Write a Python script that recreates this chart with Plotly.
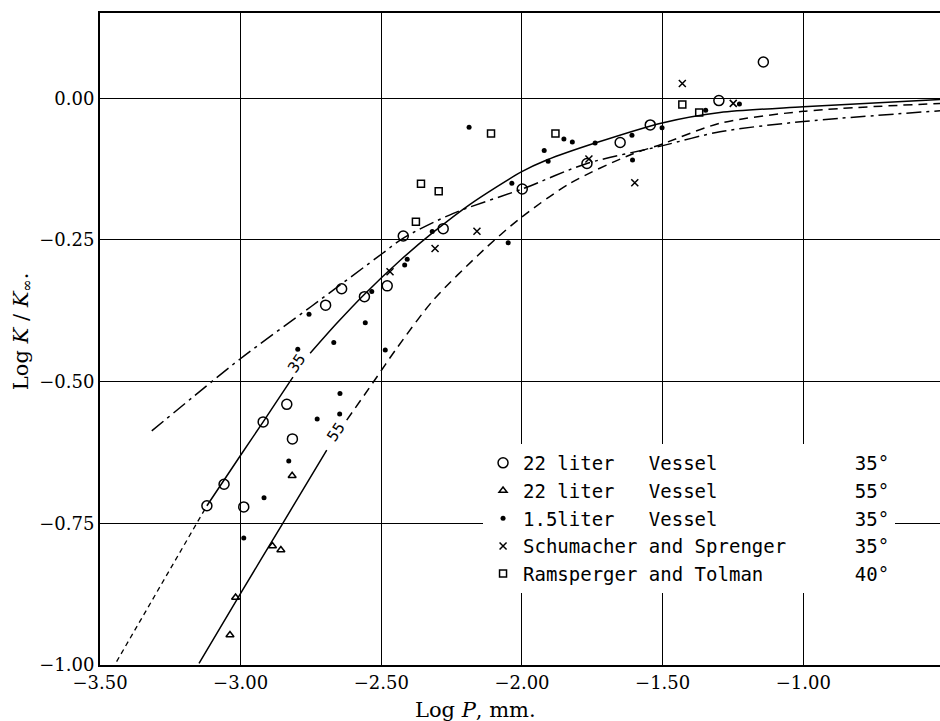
import plotly.graph_objects as go

# ---------------- data ----------------
# 22 liter vessel, 35 deg (open circles)
c22_35_x = [-3.120, -3.059, -2.989, -2.920, -2.836, -2.816, -2.698, -2.641, -2.560,
            -2.479, -2.422, -2.280, -1.999, -1.769, -1.651, -1.544, -1.300, -1.142]
c22_35_y = [-0.719, -0.681, -0.721, -0.571, -0.540, -0.601, -0.365, -0.336, -0.350,
            -0.331, -0.243, -0.230, -0.160, -0.115, -0.078, -0.047, -0.004, 0.064]

# 22 liter vessel, 55 deg (triangles)
t22_55_x = [-2.817, -2.887, -2.857, -3.018, -3.038]
t22_55_y = [-0.666, -0.790, -0.797, -0.881, -0.947]

# 1.5 liter vessel, 35 deg (dots)
d15_35_x = [-2.647, -2.648, -2.728, -2.829, -2.917, -2.989, -2.757, -2.669, -2.797,
            -2.557, -2.534, -2.486, -2.417, -2.408, -2.319, -2.188, -2.049, -2.036,
            -1.921, -1.907, -1.851, -1.821, -1.740, -1.609, -1.607, -1.502, -1.347, -1.227]
d15_35_y = [-0.521, -0.557, -0.566, -0.640, -0.705, -0.776, -0.381, -0.431, -0.443,
            -0.396, -0.341, -0.444, -0.294, -0.284, -0.235, -0.051, -0.255, -0.150,
            -0.092, -0.111, -0.072, -0.077, -0.079, -0.065, -0.109, -0.052, -0.021, -0.010]

# Schumacher and Sprenger, 35 deg (crosses)
sch_x = [-2.469, -2.309, -2.160, -1.762, -1.599, -1.430, -1.249]
sch_y = [-0.306, -0.265, -0.2345, -0.107, -0.149, 0.026, -0.009]

# Ramsperger and Tolman, 40 deg (squares)
ram_x = [-2.359, -2.296, -2.377, -2.110, -1.881, -1.430, -1.370]
ram_y = [-0.151, -0.164, -0.218, -0.062, -0.062, -0.011, -0.025]

# theoretical curves
curve35_ext_x = [-3.441, -3.120]
curve35_ext_y = [-0.994, -0.719]
curve35_low_x = [-3.120, -2.999, -2.920, -2.825, -2.814]
curve35_low_y = [-0.719, -0.629, -0.571, -0.500, -0.492]
curve35_up_x = [-2.753, -2.660, -2.5615, -2.4335, -2.315, -2.1846, -2.0006, -1.912,
                -1.740, -1.498, -1.296, -1.000, -0.514]
curve35_up_y = [-0.450, -0.398, -0.3466, -0.2862, -0.2363, -0.187, -0.1295, -0.109,
                -0.079, -0.043, -0.025, -0.015, -0.002]

curve_dd_x = [-3.316, -3.002, -2.748, -2.494, -2.423, -2.244, -1.999, -1.769,
              -1.503, -1.296, -1.000, -0.514]
curve_dd_y = [-0.587, -0.460, -0.367, -0.273, -0.247, -0.203, -0.160, -0.115,
              -0.084, -0.059, -0.041, -0.022]

curve55_low_x = [-3.148, -2.997, -2.854, -2.694]
curve55_low_y = [-0.997, -0.871, -0.753, -0.621]
curve55_up_x = [-2.623, -2.530, -2.445, -2.315, -2.137, -2.007, -1.829, -1.616,
                -1.503, -1.296, -1.000, -0.514]
curve55_up_y = [-0.568, -0.502, -0.441, -0.356, -0.268, -0.212, -0.150, -0.100,
                -0.081, -0.044, -0.023, -0.009]

x_tick_vals = [-3.5, -3.0, -2.5, -2.0, -1.5, -1.0]
x_tick_text = ["\u22123.50", "\u22123.00", "\u22122.50", "\u22122.00", "\u22121.50", "\u22121.00"]
y_tick_vals = [-1.0, -0.75, -0.5, -0.25, 0.0]
y_tick_text = ["\u22121.00", "\u22120.75", "\u22120.50", "\u22120.25", "0.00"]

legend_names = ["22 liter   Vessel", "22 liter   Vessel", "1.5liter   Vessel",
                "Schumacher and Sprenger", "Ramsperger and Tolman"]
legend_temps = ["35\u00b0", "55\u00b0", "35\u00b0", "35\u00b0", "40\u00b0"]

# ---------------- figure ----------------
NB = "\u00a0"
COL = 29


def label(name, temp):
    return name.replace(" ", NB) + NB * (COL - len(name)) + temp


fig = go.Figure()

line_specs = [
    (curve35_ext_x, curve35_ext_y, "5px,4px", 1.3),
    (curve35_low_x, curve35_low_y, "solid", 1.5),
    (curve35_up_x, curve35_up_y, "solid", 1.5),
    (curve_dd_x, curve_dd_y, "15px,5px,3px,5px", 1.5),
    (curve55_low_x, curve55_low_y, "solid", 1.5),
    (curve55_up_x, curve55_up_y, "9px,6px", 1.5),
]
for xs, ys, dash, w in line_specs:
    fig.add_trace(go.Scatter(x=xs, y=ys, mode="lines", showlegend=False, hoverinfo="skip",
                             line=dict(color="black", width=w, dash=dash, shape="spline",
                                       smoothing=0.8)))

marker_specs = [
    (c22_35_x, c22_35_y, dict(symbol="circle-open", size=10, color="black",
                              line=dict(width=1.5, color="black"))),
    (t22_55_x, t22_55_y, dict(symbol="triangle-up-open", size=7, color="black",
                              line=dict(width=1.5, color="black"))),
    (d15_35_x, d15_35_y, dict(symbol="circle", size=5, color="black")),
    (sch_x, sch_y, dict(symbol="x-thin", size=7, color="black",
                        line=dict(width=1.5, color="black"))),
    (ram_x, ram_y, dict(symbol="square-open", size=7, color="black",
                        line=dict(width=1.5, color="black"))),
]
for i, (xs, ys, mk) in enumerate(marker_specs):
    fig.add_trace(go.Scatter(x=xs, y=ys, mode="markers", marker=mk,
                             name=label(legend_names[i], legend_temps[i])))

tickfont = dict(family="DejaVu Serif", size=18, color="black")
fig.update_layout(
    width=940, height=721,
    margin=dict(l=100, r=0, t=13, b=56),
    paper_bgcolor="white", plot_bgcolor="white",
    xaxis=dict(range=[-3.5, -0.514], tickvals=x_tick_vals, ticktext=x_tick_text,
               showgrid=True, gridcolor="black", gridwidth=1.2, zeroline=False,
               showline=True, linecolor="black", linewidth=2, mirror=True,
               ticks="", tickfont=tickfont),
    yaxis=dict(range=[-1.0, 0.1505], tickvals=y_tick_vals, ticktext=y_tick_text,
               showgrid=True, gridcolor="black", gridwidth=1.2, zeroline=False,
               showline=True, linecolor="black", linewidth=2, mirror=False,
               ticks="", tickfont=tickfont),
    legend=dict(x=0.456, y=0.339, xanchor="left", yanchor="top", bgcolor="white",
                borderwidth=0, traceorder="normal", tracegroupgap=0,
                font=dict(family="DejaVu Sans Mono", size=19, color="black")),
    showlegend=True,
)

fig.add_annotation(text="Log <i>P</i>, mm.", xref="paper", yref="paper", x=0.4476, y=0,
                   yshift=-45, showarrow=False, xanchor="center", yanchor="middle",
                   font=dict(family="DejaVu Serif", size=21, color="black"))
fig.add_annotation(text="Log <i>K</i> / <i>K</i><sub>\u221e</sub>.", xref="paper",
                   yref="paper", x=0, xshift=-78, y=0.512, textangle=-90, showarrow=False,
                   xanchor="center", yanchor="middle",
                   font=dict(family="DejaVu Serif", size=21, color="black"))
fig.add_annotation(text="35", x=-2.800, y=-0.467, textangle=-55, showarrow=False,
                   font=dict(family="DejaVu Sans", size=15, color="black"))
fig.add_annotation(text="55", x=-2.662, y=-0.588, textangle=-56, showarrow=False,
                   font=dict(family="DejaVu Sans", size=15, color="black"))

fig.write_html("out.html", config={"displayModeBar": False},
               post_script="document.body.style.margin='0';document.body.style.overflow='hidden';")
